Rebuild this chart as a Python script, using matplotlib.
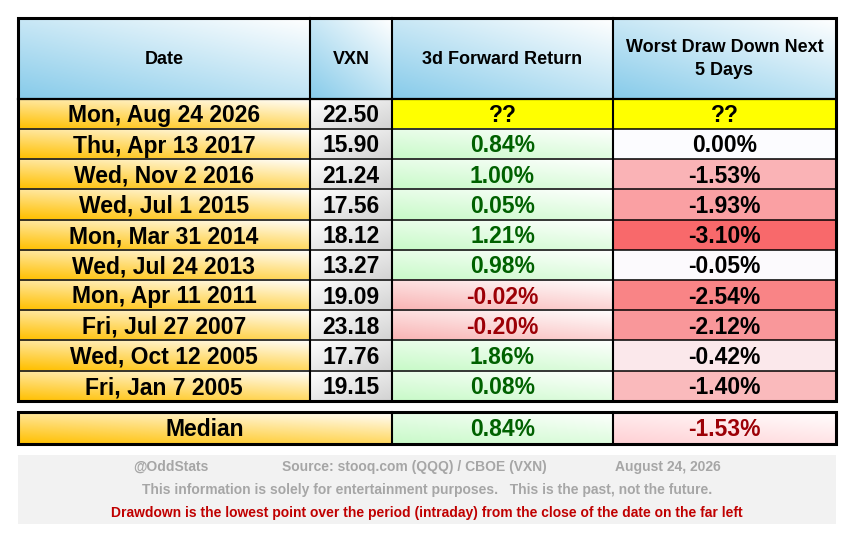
import numpy as np
import matplotlib
matplotlib.use("Agg")
import matplotlib.pyplot as plt
from matplotlib.colors import to_rgb

# ---------------- data ----------------
headers = ["Date", "VXN", "3d Forward Return", "Worst Draw Down Next\n5 Days"]
dates = ["Mon, Aug 24 2026", "Thu, Apr 13 2017", "Wed, Nov 2 2016", "Wed, Jul 1 2015",
         "Mon, Mar 31 2014", "Wed, Jul 24 2013", "Mon, Apr 11 2011", "Fri, Jul 27 2007",
         "Wed, Oct 12 2005", "Fri, Jan 7 2005"]
vxn = [22.50, 15.90, 21.24, 17.56, 18.12, 13.27, 19.09, 23.18, 17.76, 19.15]
fwd3 = [None, 0.84, 1.00, 0.05, 1.21, 0.98, -0.02, -0.20, 1.86, 0.08]
drawdown = [None, 0.00, -1.53, -1.93, -3.10, -0.05, -2.54, -2.12, -0.42, -1.40]
median_label = "Median"
median_fwd3 = 0.84
median_dd = -1.53
footer_line1 = ["@OddStats", "Source: stooq.com (QQQ) / CBOE (VXN)", "August 24, 2026"]
footer_line2 = "This information is solely for entertainment purposes.   This is the past, not the future."
footer_line3 = "Drawdown is the lowest point over the period (intraday) from the close of the date on the far left"

# ---------------- layout ----------------
W, H = 849, 538
fig = plt.figure(figsize=(W / 100, H / 100), dpi=100)
ax = fig.add_axes([0, 0, 1, 1])
ax.set_xlim(0, W)
ax.set_ylim(H, 0)
ax.axis("off")

col_x = [18, 310, 392, 613, 836]
head_top, head_bot = 18, 98.7
row_h = 30.2
n = len(dates)
tbl_bot = head_bot + row_h * n
med_top, med_bot = 411.5, 443.8
foot_top, foot_bot = 455, 524

FONT = ["Liberation Sans", "DejaVu Sans"]
NARROW = ["Liberation Sans Narrow", "Liberation Sans", "DejaVu Sans"]


def grad(x0, y0, x1, y1, c0, c1, d=(1, 1)):
    """gradient from c0 toward c1 along direction d (dx right, dy up), normalized cell coords."""
    nx, ny = 64, 32
    gx = np.linspace(0, 1, nx)[None, :]
    gy = np.linspace(0, 1, ny)[:, None]  # 0 top -> 1 bottom
    t = d[0] * gx + d[1] * (1 - gy)
    t = (t - t.min()) / (t.max() - t.min() + 1e-9)
    a = np.array(to_rgb(c0))
    b = np.array(to_rgb(c1))
    img = a[None, None, :] * (1 - t[..., None]) + b[None, None, :] * t[..., None]
    ax.imshow(img, extent=(x0, x1, y1, y0), aspect="auto", interpolation="bilinear", zorder=1)


def solid(x0, y0, x1, y1, c):
    ax.add_patch(plt.Rectangle((x0, y0), x1 - x0, y1 - y0, facecolor=c, edgecolor="none", zorder=1))


def txt(x, y, s, size=16.5, color="black", family=FONT, weight="bold"):
    ax.text(x, y, s, ha="center", va="center", fontsize=size, color=color,
            family=family, weight=weight, zorder=5, linespacing=1.45)


def cx(i):
    return (col_x[i] + col_x[i + 1]) / 2


GREEN_T = "#006100"
RED_T = "#9C0006"
dd_min = min(v for v in drawdown if v is not None)
c_lo = np.array(to_rgb("#F8696B"))
c_hi = np.array(to_rgb("#FCFCFF"))


def dd_color(v):
    t = v / dd_min
    return tuple(c_hi * (1 - t) + c_lo * t)


# header
for i, h in enumerate(headers):
    grad(col_x[i], head_top, col_x[i + 1], head_bot, "#87CBEA", "#FFFFFF", d=(1, 1.2))
    txt(cx(i), (head_top + head_bot) / 2 + 1, h, size=13)

# rows
for r in range(n):
    y0 = head_bot + r * row_h
    y1 = y0 + row_h
    yc = (y0 + y1) / 2 + 2
    grad(col_x[0], y0, col_x[1], y1, "#FFC000", "#FFFFFF", d=(0.6, 1))
    txt(cx(0), yc, dates[r])
    grad(col_x[1], y0, col_x[2], y1, "#FFFFFF", "#D2D2D2", d=(1, -1))
    txt(cx(1), yc, f"{vxn[r]:.2f}")
    if fwd3[r] is None:
        solid(col_x[2], y0, col_x[3], y1, "#FFFF00")
        txt(cx(2), yc, "??")
        solid(col_x[3], y0, col_x[4], y1, "#FFFF00")
        txt(cx(3), yc, "??")
        continue
    if fwd3[r] >= 0:
        grad(col_x[2], y0, col_x[3], y1, "#C8FAC8", "#FFFFFF", d=(1, 1.5))
        txt(cx(2), yc, f"{fwd3[r]:.2f}%", color=GREEN_T)
    else:
        grad(col_x[2], y0, col_x[3], y1, "#F9B4B4", "#FFFFFF", d=(1, 1.5))
        txt(cx(2), yc, f"{fwd3[r]:.2f}%", color=RED_T)
    solid(col_x[3], y0, col_x[4], y1, dd_color(drawdown[r]))
    txt(cx(3), yc, f"{drawdown[r]:.2f}%")

# grid lines main table
lw_in = 1.1
for r in range(1, n):
    y = head_bot + r * row_h
    ax.plot([col_x[0], col_x[4]], [y, y], color="black", lw=lw_in, zorder=6, solid_capstyle="butt")
ax.plot([col_x[0], col_x[4]], [head_bot, head_bot], color="black", lw=1.6, zorder=6)
for x in col_x[1:-1]:
    ax.plot([x, x], [head_top, tbl_bot], color="black", lw=1.5, zorder=6)
ax.add_patch(plt.Rectangle((col_x[0], head_top), col_x[4] - col_x[0], tbl_bot - head_top,
                           fill=False, edgecolor="black", lw=2.2, zorder=7))

# median row
ymc = (med_top + med_bot) / 2 + 2
grad(col_x[0], med_top, col_x[2], med_bot, "#FFC000", "#FFFFFF", d=(0.6, 1))
txt((col_x[0] + col_x[2]) / 2, ymc, median_label)
grad(col_x[2], med_top, col_x[3], med_bot, "#C8FAC8", "#FFFFFF", d=(1, 1.5))
txt(cx(2), ymc, f"{median_fwd3:.2f}%", color=GREEN_T)
grad(col_x[3], med_top, col_x[4], med_bot, "#FFD0D4", "#FFFFFF", d=(1, 1.5))
txt(cx(3), ymc, f"{median_dd:.2f}%", color=RED_T)
for x in col_x[2:-1]:
    ax.plot([x, x], [med_top, med_bot], color="black", lw=1.5, zorder=6)
ax.add_patch(plt.Rectangle((col_x[0], med_top), col_x[4] - col_x[0], med_bot - med_top,
                           fill=False, edgecolor="black", lw=2.2, zorder=7))

# footer
solid(col_x[0], foot_top, col_x[4], foot_bot, "#F2F2F2")
grey = "#A6A6A6"
for s, x in zip(footer_line1, [171, 414, 668]):
    txt(x, 467, s, size=10, color=grey, family=NARROW)
txt(427, 490, footer_line2, size=10, color=grey, family=NARROW)
txt(427, 512.5, footer_line3, size=10, color="#C00000", family=NARROW)

fig.savefig("out.png", dpi=100, facecolor="white")
